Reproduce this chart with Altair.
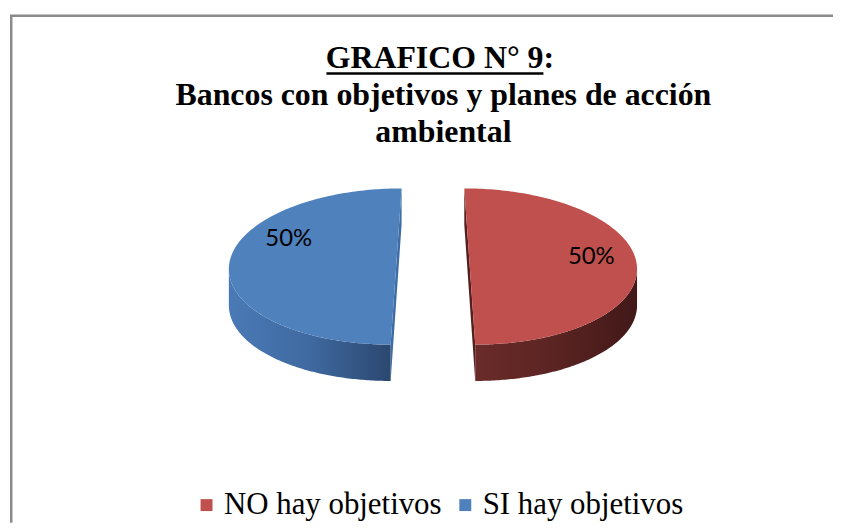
import math
import numpy as np
import pandas as pd
import altair as alt

# ---------------- data ----------------
categories = ["NO hay objetivos", "SI hay objetivos"]
values = [50, 50]
pct_labels = ["50%", "50%"]
title_lines = ["GRAFICO N° 9:", "Bancos con objetivos y planes de acción", "ambiental"]

# ---------------- style ----------------
top_colors = ["#C0504D", "#4F81BD"]
side_stops = [["#6A2B29", "#5A2422", "#421818"], ["#4A7AB6", "#3F69A0", "#2B4870"]]
cut_colors = ["#561F1E", "#3D6CA6"]
label_shift_deg = [-9, 28]

W, H = 827, 516
CX, CY = 425.0, 258.5        # pie centre in view pixels
RX, RY = 168.0, 78.5         # pixel size of one unit in x / y
EXPLODE = 37.0 / RX
SHEAR = 5.5 / RX
DEPTH = 36.5 / RY
LABEL_R = 0.74

xs = alt.Scale(domain=[(0 - CX) / RX, (W - CX) / RX], nice=False, zero=False)
ys = alt.Scale(domain=[(CY - H) / RY, CY / RY], nice=False, zero=False)

total = float(sum(values))
cum = np.concatenate([[0.0], np.cumsum(values)]) / total * 2 * math.pi

top_dfs, side_dfs, cut_dfs, lab_rows = [], [], [], []
for i, cat in enumerate(categories):
    a0, a1 = cum[i], cum[i + 1]
    mid = (a0 + a1) / 2
    ox, oy = EXPLODE * math.sin(mid), EXPLODE * math.cos(mid)
    s = 1.0 if math.sin(mid) >= 0 else -1.0

    def px(u, v):
        return ox + u - s * SHEAR * v

    rows = []
    for t in np.linspace(a0, a1, 181):
        u, v = math.sin(t), math.cos(t)
        rows.append({"cat": cat, "x": px(u, v), "x2": px(0.0, v), "y": oy + v})
    top_dfs.append(pd.DataFrame(rows).sort_values("y"))

    lo = max(a0, math.pi / 2 + (math.atan(SHEAR) if s > 0 else 0.0))
    hi = min(a1, 3 * math.pi / 2 - (math.atan(SHEAR) if s < 0 else 0.0))
    rows = []
    for t in np.linspace(lo, hi, 121):
        u, v = math.sin(t), math.cos(t)
        rows.append({"x": px(u, v), "y": oy + v, "y2": oy + v - DEPTH})
    side_dfs.append(pd.DataFrame(rows).sort_values("x"))

    rows = []
    for v in [1.0, 1.0 - DEPTH, -1.0, -1.0 - DEPTH]:
        rows.append({"y": oy + v, "x": px(0.0, max(v, -1.0)), "x2": px(0.0, min(v + DEPTH, 1.0))})
    cut_dfs.append(pd.DataFrame(rows).sort_values("y"))

    la = mid + math.radians(label_shift_deg[i])
    lu, lv = LABEL_R * math.sin(la), LABEL_R * math.cos(la)
    lab_rows.append({"x": px(lu, lv), "y": oy + lv, "t": pct_labels[i]})

lab_df = pd.DataFrame(lab_rows)

X = lambda f: alt.X(f, type="quantitative", scale=xs, axis=None)
Y = lambda f: alt.Y(f, type="quantitative", scale=ys, axis=None)

layers = []

# frame (top and left edges; the rest lies outside the window)
one = pd.DataFrame({"a": [0]})
layers.append(alt.Chart(one).mark_rule(color="#8A8A8A", strokeWidth=2.5).encode(
    x=alt.value(0), x2=alt.value(W), y=alt.value(6.5)))
layers.append(alt.Chart(one).mark_rule(color="#8A8A8A", strokeWidth=2.5).encode(
    x=alt.value(1.25), y=alt.value(6.5), y2=alt.value(H)))

# cut faces
for i, cat in enumerate(categories):
    layers.append(
        alt.Chart(cut_dfs[i]).mark_area(orient="horizontal", color=cut_colors[i], opacity=1).encode(
            y=Y("y"), x=X("x"), x2=alt.X2("x2")
        )
    )

# side faces with gradient
for i, cat in enumerate(categories):
    st = side_stops[i]
    grad = alt.LinearGradient(
        gradient="linear", x1=0, x2=1, y1=0, y2=0,
        stops=[alt.GradientStop(color=st[0], offset=0),
               alt.GradientStop(color=st[1], offset=0.5),
               alt.GradientStop(color=st[2], offset=1)],
    )
    layers.append(
        alt.Chart(side_dfs[i]).mark_area(orient="vertical", fill=grad, opacity=1).encode(
            x=X("x"), y=Y("y"), y2=alt.Y2("y2")
        )
    )

# top faces + legend
for i, cat in enumerate(categories):
    enc = dict(y=Y("y"), x=X("x"), x2=alt.X2("x2"))
    enc["color"] = alt.Color(
        "cat:N",
        scale=alt.Scale(domain=categories, range=top_colors),
        legend=alt.Legend(
            orient="none", legendX=182, legendY=482.5, direction="horizontal", title=None,
            symbolType="square", symbolSize=144, symbolStrokeWidth=0, symbolOpacity=1,
            labelFont="Liberation Serif", labelFontSize=31, labelColor="black",
            labelOffset=2, columnPadding=8, padding=0, labelLimit=0,
        ) if i == 0 else None,
    )
    layers.append(alt.Chart(top_dfs[i]).mark_area(orient="horizontal", opacity=1).encode(**enc))

# percentage labels
layers.append(
    alt.Chart(lab_df).mark_text(font="Lato", fontSize=24, color="black", align="center", baseline="middle").encode(
        x=X("x"), y=Y("y"), text="t:N"
    )
)

# title
title_pos = [(432, 59), (435.5, 96), (435.5, 133)]
for line, (tx, ty) in zip(title_lines, title_pos):
    layers.append(
        alt.Chart(pd.DataFrame({"t": [line]})).mark_text(
            font="Liberation Serif", fontWeight="bold", fontSize=32, color="black",
            align="center", baseline="alphabetic"
        ).encode(x=alt.value(tx), y=alt.value(ty), text="t:N")
    )
layers.append(
    alt.Chart(one).mark_rule(color="black", strokeWidth=2.5).encode(
        x=alt.value(318), x2=alt.value(536), y=alt.value(64.5)
    )
)

chart = alt.layer(*layers).properties(width=W, height=H, padding=0, background="white").configure_view(stroke=None)
chart.save("out.html", embed_options={"renderer": "svg", "actions": False})
